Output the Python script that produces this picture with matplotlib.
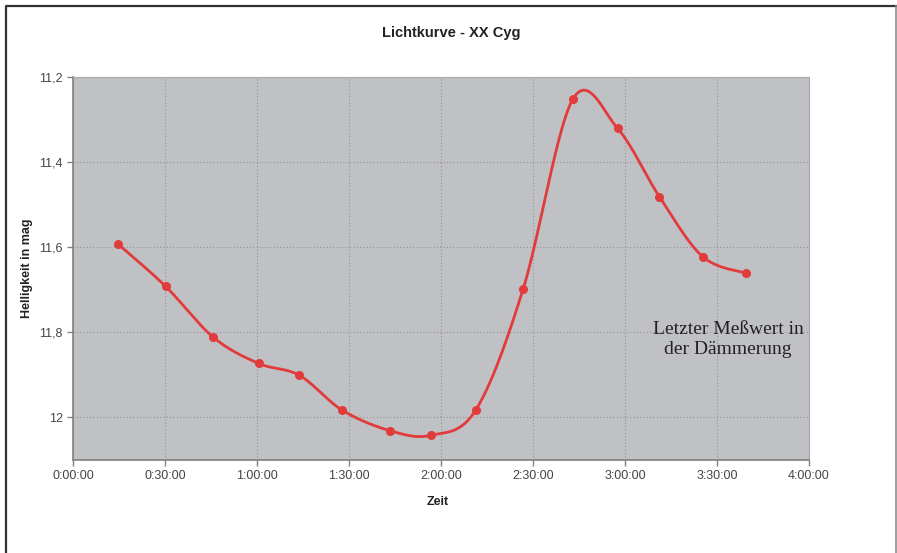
import numpy as np
import matplotlib
matplotlib.use("Agg")
import matplotlib.pyplot as plt
from matplotlib.lines import Line2D
from matplotlib.ticker import FuncFormatter, MultipleLocator

plt.rcParams["font.family"] = ["Liberation Sans", "DejaVu Sans"]

# time of each measurement in minutes since start, brightness in mag
minutes = [14.6, 30.2, 45.8, 60.5, 73.8, 87.8, 103.3, 116.7,
           131.3, 146.8, 163.0, 177.6, 191.2, 205.3, 219.5]
mag = [11.592, 11.692, 11.812, 11.873, 11.901, 11.983, 12.031, 12.042,
       11.983, 11.698, 11.252, 11.321, 11.481, 11.622, 11.661]

y_ticks = [11.2, 11.4, 11.6, 11.8, 12.0]
note = "Letzter Meßwert in\nder Dämmerung"

RED = "#e23b3b"
BG = "#c0c1c5"


def smooth(xs, ys, k=1 / 6, n=40):
    # Excel style smoothed line: cubic Bezier through each pair of points
    p = np.column_stack([xs, ys]).astype(float)
    p_ext = np.vstack([p[0], p, p[-1]])
    out = [p[:1]]
    t = np.linspace(0, 1, n)[1:, None]
    for i in range(len(p) - 1):
        p0, p1 = p_ext[i + 1], p_ext[i + 2]
        c1 = p0 + (p_ext[i + 2] - p_ext[i]) * k
        c2 = p1 - (p_ext[i + 3] - p_ext[i + 1]) * k
        seg = ((1 - t) ** 3 * p0 + 3 * (1 - t) ** 2 * t * c1
               + 3 * (1 - t) * t ** 2 * c2 + t ** 3 * p1)
        out.append(seg)
    c = np.vstack(out)
    return c[:, 0], c[:, 1]


def hms(v, pos=None):
    total = int(round(v * 60))
    return f"{total // 3600}:{(total % 3600) // 60:02d}:{total % 60:02d}"


fig = plt.figure(figsize=(8.97, 5.53), dpi=100)

# chart frame: dark top/left, lighter right, open at the bottom
W, H = 897, 553
fig.add_artist(Line2D([5.5 / W, 5.5 / W, 895.5 / W], [0, 1 - 6 / H, 1 - 6 / H],
                      transform=fig.transFigure, color="#333333", lw=1.6))
fig.add_artist(Line2D([895.5 / W, 895.5 / W], [0, 1 - 6 / H],
                      transform=fig.transFigure, color="#8c8c8c", lw=1.2))

ax = fig.add_axes([73 / W, 1 - 460 / H, 736 / W, 383 / H])
ax.set_facecolor(BG)

sx, sy = smooth(minutes, mag)
ax.plot(sx, sy, color=RED, linewidth=2)
ax.plot(minutes, mag, "o", color=RED, markersize=5.5)

ax.set_xlim(0, 240)
ax.set_ylim(12.1, 11.2)
ax.xaxis.set_major_locator(MultipleLocator(30))
ax.xaxis.set_major_formatter(FuncFormatter(hms))
ax.set_yticks(y_ticks)
ax.set_yticklabels([f"{v:g}".replace(".", ",") for v in y_ticks])

ax.grid(True, color="#939393", linestyle=(0, (1, 2)), linewidth=0.8)
ax.set_axisbelow(True)
ax.tick_params(colors="#808080", labelcolor="#444444", labelsize=9,
               length=4, width=1, direction="out")
for side in ["top", "right"]:
    ax.spines[side].set_color("#a8a8ac")
for side in ["left", "bottom"]:
    ax.spines[side].set_color("#808080")
    ax.spines[side].set_linewidth(1.2)

ax.text(0.89, 0.315, note, transform=ax.transAxes, ha="center",
        va="center", fontsize=14, family=["Liberation Serif"],
        color="#222222", linespacing=1.2)

fig.text(451 / W, 1 - 33 / H, "Lichtkurve - XX Cyg", ha="center",
         va="center", fontsize=10.5, fontweight="bold", color="#222222")
fig.text(27 / W, 1 - 268 / H, "Helligkeit in mag", ha="center",
         va="center", rotation=90, fontsize=9, fontweight="bold",
         color="#222222")
fig.text(438 / W, 1 - 502 / H, "Zeit", ha="center", va="center",
         fontsize=9, fontweight="bold", color="#222222")

fig.savefig("out.png", dpi=100)
